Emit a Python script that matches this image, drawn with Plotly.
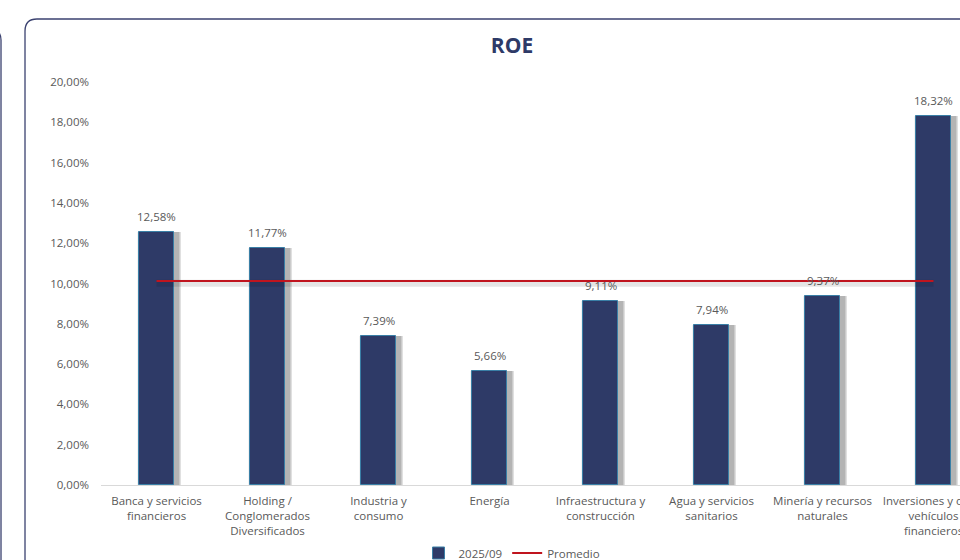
import plotly.graph_objects as go

categories = [
    "Banca y servicios<br>financieros",
    "Holding /<br>Conglomerados<br>Diversificados",
    "Industria y<br>consumo",
    "Energía",
    "Infraestructura y<br>construcción",
    "Agua y servicios<br>sanitarios",
    "Minería y recursos<br>naturales",
    "Inversiones y otros<br>vehículos<br>financieros",
]
roe_2025_09 = [12.58, 11.77, 7.39, 5.66, 9.11, 7.94, 9.37, 18.32]
promedio = [10.13, 10.13, 10.13, 10.13, 10.13, 10.13, 10.13, 10.13]
y_ticks = [0, 2, 4, 6, 8, 10, 12, 14, 16, 18, 20]

W, H = 960, 560
L_PX, R_PX = 101, 960
TOP_PX, BOT_PX = 82, 485
cat_px = 111.0

NAVY = "#2E3A67"
GRAY_TXT = "#595959"
RED = "#C0141E"
FONT = "Open Sans"

def pct(v):
    return f"{v:.2f}".replace(".", ",") + "%"

x_idx = list(range(len(categories)))
labels = [pct(v) for v in roe_2025_09]
y_tick_text = [pct(v) for v in y_ticks]

bw = 0.32
fig = go.Figure()

# soft bar shadows (layers)
for dx, extra, alpha in [(-0.015, 0.075, 0.05), (0.0, 0.06, 0.07), (0.015, 0.035, 0.09), (0.025, 0.02, 0.11)]:
    fig.add_trace(go.Bar(x=x_idx, y=roe_2025_09, width=bw + extra, offset=-bw / 2 + dx,
                         marker=dict(color=f"rgba(0,0,0,{alpha})", line=dict(width=0)),
                         showlegend=False, hoverinfo="skip"))
# main bars
fig.add_trace(go.Bar(x=x_idx, y=roe_2025_09, width=bw, offset=-bw / 2, name="2025/09",
                     marker=dict(color=NAVY, line=dict(width=1, color="#3A7FA6"))))
# line shadow
fig.add_trace(go.Scatter(x=x_idx, y=[p - 0.12 for p in promedio], mode="lines",
                         line=dict(color="rgba(0,0,0,0.10)", width=7),
                         showlegend=False, hoverinfo="skip"))
fig.add_trace(go.Scatter(x=x_idx, y=promedio, mode="lines", name="Promedio",
                         line=dict(color=RED, width=2)))

annotations = [
    dict(x=i, y=v, xref="x", yref="y", text=t, showarrow=False, yanchor="bottom",
         yshift=6, font=dict(family=FONT, size=11.5, color=GRAY_TXT))
    for i, v, t in zip(x_idx, roe_2025_09, labels)
]

x_max = -0.5 + (R_PX - L_PX) / cat_px

def px_to_paper(px, py):
    return (px - L_PX) / (R_PX - L_PX), (BOT_PX - py) / (BOT_PX - TOP_PX)

def path(points):
    out = []
    for cmd, pts in points:
        coords = " ".join(f"{px_to_paper(a, b)[0]:.5f},{px_to_paper(a, b)[1]:.5f}" for a, b in pts)
        out.append(f"{cmd} {coords}")
    return " ".join(out)

panel = path([("M", [(25, 620)]), ("L", [(25, 31)]), ("Q", [(25, 19), (37, 19)]), ("L", [(1000, 19)])])
left_panel = path([("M", [(-20, 26)]), ("Q", [(1, 26), (1, 40)]), ("L", [(1, 620)])])

fig.update_layout(
    width=W, height=H,
    margin=dict(l=L_PX, r=W - R_PX, t=TOP_PX, b=H - BOT_PX, autoexpand=False),
    paper_bgcolor="white", plot_bgcolor="white",
    barmode="overlay", bargap=0,
    separators=",.",
    font=dict(family=FONT, size=11.5, color=GRAY_TXT),
    title=dict(text="<b>ROE</b>", font=dict(family=FONT, size=21, color=NAVY),
               xref="container", x=512 / W, xanchor="center",
               yref="container", y=1 - 46 / H, yanchor="middle"),
    xaxis=dict(range=[-0.5, x_max], tickmode="array", tickvals=x_idx, ticktext=categories,
               showgrid=False, zeroline=False, showline=True, linecolor="#D9D9D9", linewidth=1,
               ticks="", ticklabelstandoff=5, ticklabeloverflow="allow",
               tickfont=dict(family=FONT, size=11.5, color=GRAY_TXT)),
    yaxis=dict(range=[0, 20], tickmode="array", tickvals=y_ticks, ticktext=y_tick_text,
               showgrid=False, zeroline=False, showline=False, ticks="",
               ticklabelstandoff=11,
               tickfont=dict(family=FONT, size=11.5, color=GRAY_TXT)),
    legend=dict(orientation="h", xref="container", x=512 / W, xanchor="center",
                yref="container", y=1 - 553 / H, yanchor="middle",
                font=dict(family=FONT, size=11.5, color=GRAY_TXT),
                traceorder="normal", itemwidth=30, bgcolor="rgba(0,0,0,0)"),
    annotations=annotations,
    shapes=[
        dict(type="path", path=panel, xref="paper", yref="paper",
             line=dict(color="#3B4270", width=1.3), layer="above"),
        dict(type="path", path=left_panel, xref="paper", yref="paper",
             line=dict(color="#3B4270", width=1.3), layer="above"),
    ],
)

fig.write_html("out.html", config={"displayModeBar": False},
               post_script="document.body.style.margin='0';document.body.style.overflow='hidden';")
